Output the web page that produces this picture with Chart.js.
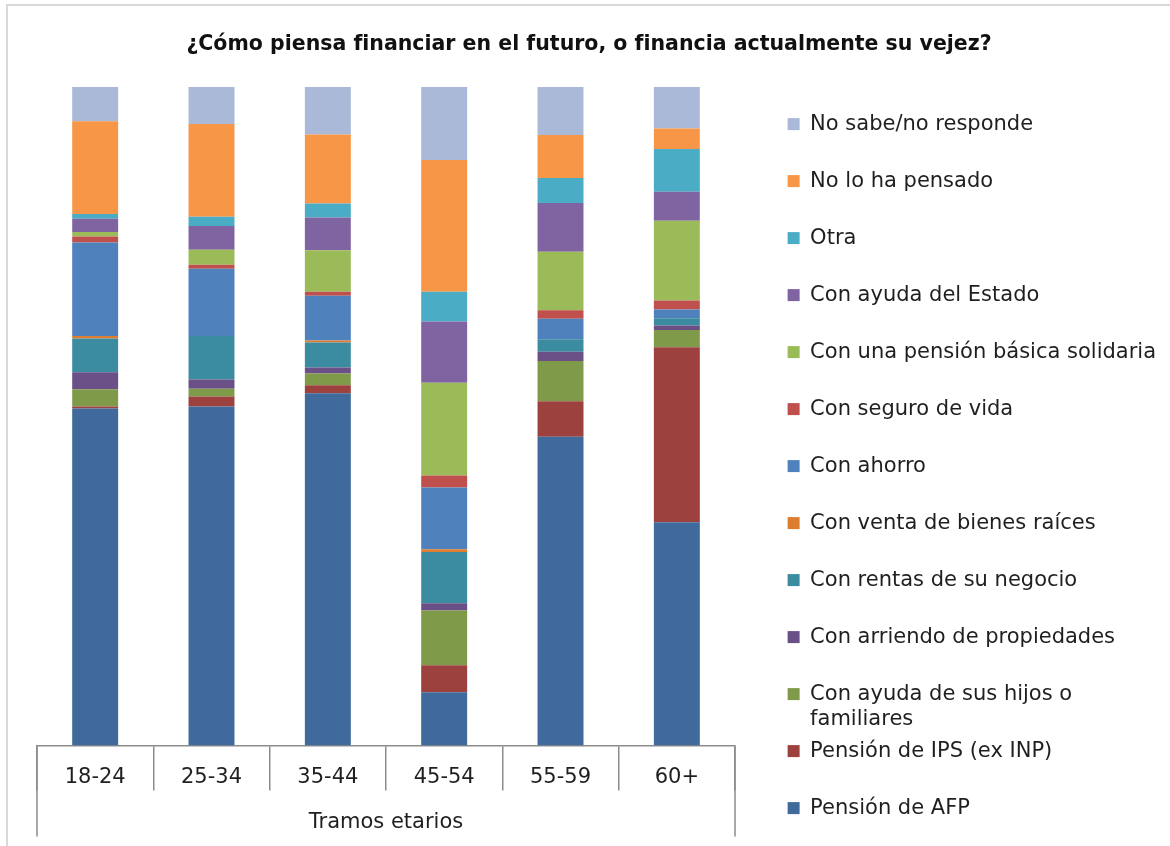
<!DOCTYPE html>
<html lang="es">
<head>
<meta charset="utf-8">
<title>¿Cómo piensa financiar en el futuro, o financia actualmente su vejez?</title>
<script src="https://cdn.jsdelivr.net/npm/chart.js@4.4.1/dist/chart.umd.min.js"></script>
<style>
  html, body { margin: 0; padding: 0; background: #fff; }
  body { width: 1170px; height: 846px; position: relative; overflow: hidden; }
  .marco { position: absolute; left: 6px; top: 4px; right: -30px; bottom: -30px;
           border-top: 2px solid #d9d9d9; border-left: 2px solid #d9d9d9; }
  #grafico { position: absolute; left: 0; top: 0; }
</style>
</head>
<body>
<div class="marco"></div>
<canvas id="grafico" width="1170" height="846"></canvas>
<script>
/* DATOS */
const tramos = ['18-24', '25-34', '35-44', '45-54', '55-59', '60+'];

const pensionAFP      = [51.2, 51.5, 53.5,  8.1, 46.9, 33.9];
const pensionIPS      = [ 0.3,  1.5,  1.2,  4.1,  5.4, 26.6];
const ayudaHijos      = [ 2.6,  1.2,  1.8,  8.3,  6.1,  2.6];
const arriendo        = [ 2.6,  1.4,  0.9,  1.1,  1.4,  0.7];
const rentasNegocio   = [ 5.1,  6.6,  3.8,  7.8,  1.9,  1.1];
const ventaBienes     = [ 0.4,  0.0,  0.3,  0.4,  0.0,  0.0];
const ahorro          = [14.2, 10.2,  6.8,  9.4,  3.1,  1.3];
const seguroVida      = [ 0.9,  0.6,  0.6,  1.8,  1.3,  1.4];
const pensionBasica   = [ 0.7,  2.3,  6.3, 14.1,  8.9, 12.1];
const ayudaEstado     = [ 2.0,  3.6,  5.0,  9.3,  7.4,  4.4];
const otra            = [ 0.7,  1.4,  2.1,  4.5,  3.8,  6.5];
const noPensado       = [14.1, 14.1, 10.5, 20.0,  6.5,  3.1];
const noSabe          = [ 5.2,  5.6,  7.2, 11.1,  7.3,  6.3];

/* series de abajo hacia arriba */
const series = [
  { label: 'Pensión de AFP', data: pensionAFP, color: '#3f6a9b' },
  { label: 'Pensión de IPS (ex INP)', data: pensionIPS, color: '#9c413e' },
  { label: 'Con ayuda de sus hijos o familiares', data: ayudaHijos, color: '#7f9a48' },
  { label: 'Con arriendo de propiedades', data: arriendo, color: '#6a5086' },
  { label: 'Con rentas de su negocio', data: rentasNegocio, color: '#3b8ba1' },
  { label: 'Con venta de bienes raíces', data: ventaBienes, color: '#dd7d30' },
  { label: 'Con ahorro', data: ahorro, color: '#4f81bd' },
  { label: 'Con seguro de vida', data: seguroVida, color: '#c0504d' },
  { label: 'Con una pensión básica solidaria', data: pensionBasica, color: '#9bbb59' },
  { label: 'Con ayuda del Estado', data: ayudaEstado, color: '#8064a2' },
  { label: 'Otra', data: otra, color: '#4bacc6' },
  { label: 'No lo ha pensado', data: noPensado, color: '#f79646' },
  { label: 'No sabe/no responde', data: noSabe, color: '#aab9d7' }
];

/* texto de la leyenda (dos lineas para que el espaciado sea parejo) */
function textoLeyenda(label, i) {
  if (i === 0) return label;
  if (label === 'Con ayuda de sus hijos o familiares') return ['Con ayuda de sus hijos o', 'familiares'];
  return [label, ''];
}

Chart.defaults.font.family = '"DejaVu Sans", sans-serif';
Chart.defaults.color = '#1f1f1f';

const colorEje = '#8c8c8c';

/* lineas exteriores de la caja del eje X */
const lineasEje = {
  id: 'lineasEje',
  afterDraw(chart) {
    const { ctx, chartArea } = chart;
    ctx.save();
    ctx.strokeStyle = colorEje;
    ctx.lineWidth = 1.5;
    ctx.beginPath();
    [chartArea.left, chartArea.right].forEach(x => {
      ctx.moveTo(x, chartArea.bottom);
      ctx.lineTo(x, chartArea.bottom + 91);
    });
    ctx.stroke();
    ctx.restore();
  }
};

const ctx = document.getElementById('grafico').getContext('2d');

new Chart(ctx, {
  type: 'bar',
  data: {
    labels: tramos,
    datasets: series.map(s => ({
      label: s.label,
      data: s.data,
      backgroundColor: s.color,
      borderWidth: 0,
      barPercentage: 0.395,
      categoryPercentage: 1
    }))
  },
  options: {
    responsive: false,
    animation: false,
    layout: { padding: { left: 12, right: 4, top: 0, bottom: 0 } },
    scales: {
      x: {
        stacked: true,
        grid: { offset: true, drawOnChartArea: false, drawTicks: true, tickLength: 45, color: colorEje, lineWidth: 1.5 },
        border: { display: true, color: colorEje, width: 1.5 },
        ticks: { font: { size: 21 }, padding: -26, color: '#1f1f1f' },
        title: { display: true, text: 'Tramos etarios', font: { size: 21 }, padding: { top: 46, bottom: 11 }, color: '#1f1f1f' }
      },
      y: {
        stacked: true,
        display: false,
        position: 'right',
        min: 0,
        max: 100,
        afterFit: (scale) => { scale.width = 46; }
      },
      margen: {
        type: 'linear',
        display: false,
        position: 'left',
        afterFit: (scale) => { scale.width = 25; }
      }
    },
    plugins: {
      title: {
        display: true,
        text: '¿Cómo piensa financiar en el futuro, o financia actualmente su vejez?',
        font: { size: 20.5, weight: 'bold' },
        color: '#111',
        padding: { top: 32.7, bottom: 29.7 }
      },
      legend: {
        position: 'right',
        align: 'start',
        reverse: true,
        title: { display: true, text: ' ', font: { size: 10, lineHeight: 1 }, padding: { top: 97, bottom: 0 } },
        labels: {
          boxWidth: 12,
          boxHeight: 12,
          padding: 6.6,
          font: { size: 21, lineHeight: 1.2 },
          color: '#1f1f1f',
          generateLabels(chart) {
            const items = Chart.defaults.plugins.legend.labels.generateLabels(chart);
            items.forEach(it => { it.text = textoLeyenda(series[it.datasetIndex].label, it.datasetIndex); });
            return items;
          }
        }
      },
      tooltip: { enabled: false }
    }
  },
  plugins: [lineasEje]
});
</script>
</body>
</html>
